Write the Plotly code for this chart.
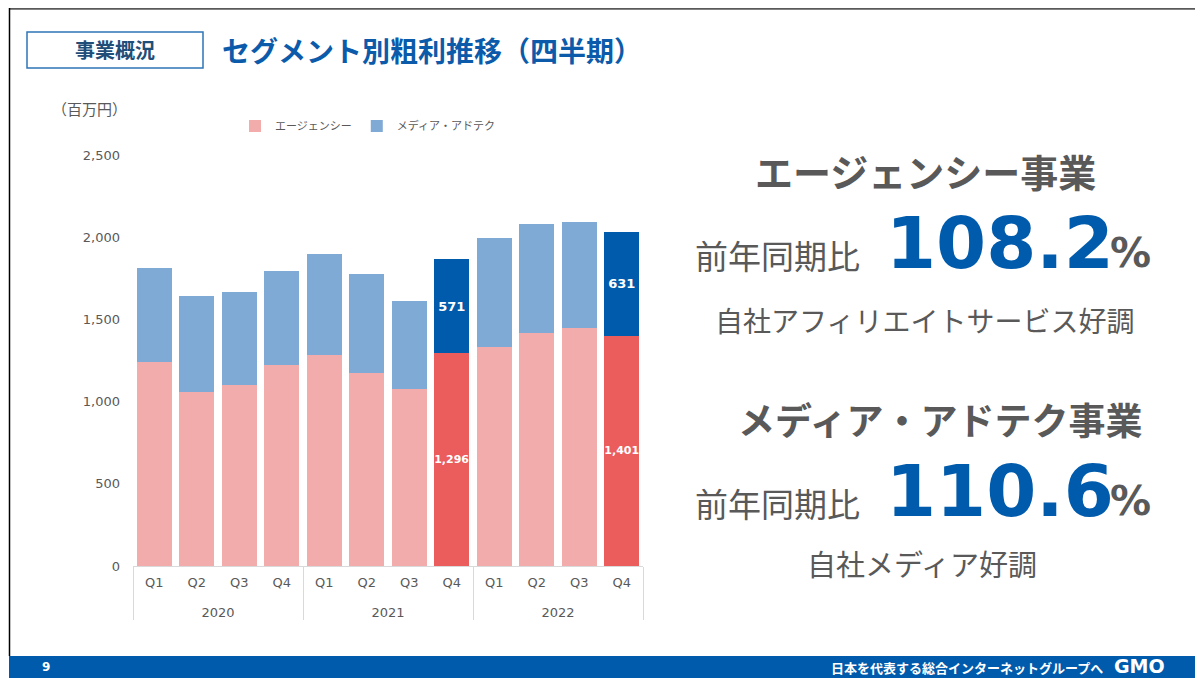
import plotly.graph_objects as go

# ---- data ----
years = ["2020"] * 4 + ["2021"] * 4 + ["2022"] * 4
quarters = ["Q1", "Q2", "Q3", "Q4"] * 3
agency = [1238, 1056, 1098, 1220, 1286, 1171, 1074, 1296, 1335, 1420, 1450, 1401]
media = [576, 588, 571, 576, 613, 607, 540, 571, 661, 661, 643, 631]
highlight = [("2021", "Q4"), ("2022", "Q4")]
y_ticks = [0, 500, 1000, 1500, 2000, 2500]

# ---- style ----
AG_LIGHT, AG_DARK = "#F2ACAC", "#EB5C5C"
MD_LIGHT, MD_DARK = "#7FAAD6", "#005BAC"
GRAY = "#595959"
BLUE = "#005BAC"
JP = "Noto Sans CJK JP, sans-serif"
NUM = "DejaVu Sans, Noto Sans CJK JP, sans-serif"

PAGE_W, PAGE_H = 1203, 678
OFF = 8  # default body margin of the html page
W, H = PAGE_W - OFF, PAGE_H - OFF
# plot area in page pixels
L, R, T, B = 133, 643, 155, 566


def px(x):
    return (x - L) / (R - L)


def py(y):
    return (B - y) / (B - T)


is_hl = [(yy, q) in highlight for yy, q in zip(years, quarters)]
ag_colors = [AG_DARK if h else AG_LIGHT for h in is_hl]
md_colors = [MD_DARK if h else MD_LIGHT for h in is_hl]
ag_text = [f"{v:,}" if h else "" for v, h in zip(agency, is_hl)]
md_text = [f"{v:,}" if h else "" for v, h in zip(media, is_hl)]
# extra blank line under quarter labels gives room above the year row
q_labels = [q + "<br>\u00a0" for q in quarters]

fig = go.Figure()
fig.add_trace(go.Bar(
    x=[years, q_labels], y=agency, name="エージェンシー",
    marker=dict(color=ag_colors, line=dict(width=0)),
    text=ag_text, textposition="inside", insidetextanchor="middle", textangle=0,
    textfont=dict(color="white", size=11, family="DejaVu Sans", weight="bold"),
    constraintext="none", hoverinfo="y",
))
fig.add_trace(go.Bar(
    x=[years, q_labels], y=media, name="メディア・アドテク",
    marker=dict(color=md_colors, line=dict(width=0)),
    text=md_text, textposition="inside", insidetextanchor="middle", textangle=0,
    textfont=dict(color="white", size=13, family="DejaVu Sans", weight="bold"),
    constraintext="none", hoverinfo="y",
))

fig.update_layout(
    width=W, height=H,
    margin=dict(l=L - OFF, r=PAGE_W - R, t=T - OFF, b=PAGE_H - B),
    barmode="stack", bargap=0.18,
    plot_bgcolor="white", paper_bgcolor="white",
    font=dict(family=NUM, color=GRAY, size=13),
    showlegend=True,
    legend=dict(
        orientation="h", x=px(235), y=py(126), xanchor="left", yanchor="middle",
        font=dict(family=JP, size=11, color=GRAY), traceorder="normal",
        itemwidth=30, bgcolor="rgba(0,0,0,0)",
    ),
)
fig.update_yaxes(
    range=[0, 2500], tickvals=y_ticks, tickformat=",", showgrid=False,
    zeroline=False, showline=False, ticks="", ticklabelstandoff=12,
    tickfont=dict(size=13, color=GRAY, family=NUM),
)
fig.update_xaxes(
    type="multicategory", showline=True, linecolor="#D9D9D9", linewidth=1,
    showdividers=True, dividercolor="#D9D9D9", dividerwidth=1,
    ticks="", ticklabelstandoff=4, tickfont=dict(size=13, color=GRAY, family=NUM),
)

shapes = [
    # frame
    dict(type="line", x0=px(9), x1=px(PAGE_W), y0=py(8.5), y1=py(8.5),
         line=dict(color=GRAY, width=2.5)),
    dict(type="line", x0=px(9.5), x1=px(9.5), y0=py(8), y1=py(656),
         line=dict(color="black", width=1.5)),
    # title box
    dict(type="rect", x0=px(27), x1=px(203), y0=py(32), y1=py(68),
         line=dict(color="#2E75B6", width=1.5), fillcolor="white"),
    # footer band
    dict(type="rect", x0=px(9), x1=px(PAGE_W + 2), y0=py(656), y1=py(PAGE_H + 2),
         line=dict(width=0), fillcolor=BLUE),
]
for s in shapes:
    s.update(xref="paper", yref="paper", layer="above")
fig.update_layout(shapes=shapes)


def ann(text, x, y, size, color=GRAY, bold=False, xanchor="center", family=JP):
    fig.add_annotation(
        text=text, x=px(x), y=py(y), xref="paper", yref="paper",
        xanchor=xanchor, yanchor="middle", showarrow=False,
        font=dict(size=size, color=color, family=family,
                  weight="bold" if bold else "normal"),
    )


ann("事業概況", 115, 50, 20, color="#1F4E79", bold=True)
ann("セグメント別粗利推移（四半期）", 220, 50, 28, color="#0B5BAA", bold=True, xanchor="left")
ann("（百万円）", 50, 108, 15, xanchor="left")

ann("エージェンシー事業", 925, 171, 38, bold=True)
ann("前年同期比", 693, 255, 33, xanchor="left")
ann("108.2", 884, 243, 72, color=BLUE, bold=True, xanchor="left", family=NUM)
ann("%", 1108, 253, 41, bold=True, xanchor="left", family=NUM)
ann("自社アフィリエイトサービス好調", 924, 320, 28)

ann("メディア・アドテク事業", 940, 419, 37, bold=True)
ann("前年同期比", 693, 503, 33, xanchor="left")
ann("110.6", 884, 491, 72, color=BLUE, bold=True, xanchor="left", family=NUM)
ann("%", 1108, 501, 41, bold=True, xanchor="left", family=NUM)
ann("自社メディア好調", 922, 563, 29)

ann("9", 40, 667, 12, color="white", bold=True, xanchor="left", family=NUM)
ann("日本を代表する総合インターネットグループへ", 1105, 667, 13, color="white", bold=True, xanchor="right")
ann("GMO", 1112, 665.5, 19, color="white", bold=True, xanchor="left", family=NUM)

fig.write_html("out.html")
